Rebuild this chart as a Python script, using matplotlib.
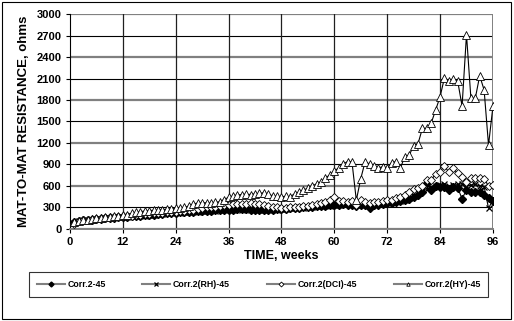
import matplotlib
matplotlib.use("Agg")
import matplotlib.pyplot as plt
from matplotlib.patches import Rectangle
import numpy as np

plt.rcParams['font.family'] = ['Liberation Sans', 'DejaVu Sans']

weeks = list(range(1, 97))

corr2 = [100,110,120,125,130,135,140,145,150,155,160,165,
         170,175,180,185,190,195,200,205,210,215,220,225,
         230,235,240,240,245,250,255,255,260,265,265,270,
         270,275,275,275,270,270,265,265,270,270,275,275,
         280,285,290,295,300,305,310,315,320,325,330,335,
         340,345,340,330,320,340,330,290,330,340,350,355,
         365,375,390,400,420,450,480,520,640,550,600,590,
         590,545,590,575,420,545,520,520,520,480,430,390]

corr2_rh = [80,105,115,125,130,140,140,150,150,160,160,170,
            165,180,175,190,185,200,195,210,205,220,215,230,
            225,240,235,245,240,255,250,260,255,270,265,275,
            265,280,270,280,265,275,260,270,265,275,270,280,
            275,290,285,300,295,310,305,320,315,330,325,340,
            335,350,345,360,330,350,340,320,345,350,360,365,
            370,385,395,410,430,460,500,540,560,580,600,610,
            620,600,610,620,630,600,610,620,600,590,290,400]

corr2_dci = [70,110,120,130,135,140,150,150,160,165,170,175,
             180,185,190,200,205,210,215,220,225,230,235,240,
             250,255,265,270,280,290,300,305,310,320,330,340,
             345,350,350,350,355,350,345,340,320,310,300,295,
             295,300,305,310,315,320,330,345,360,380,400,450,
             390,385,380,390,330,400,370,360,375,380,390,400,
             410,430,450,480,510,560,570,600,680,685,765,800,
             880,790,845,775,730,650,705,705,705,700,600,610]

corr2_hy = [90,110,120,130,140,150,155,160,170,175,180,190,
            200,215,230,240,250,255,260,265,270,275,280,285,
            290,300,320,350,360,365,365,360,370,380,410,440,
            460,475,480,485,480,490,495,505,490,460,455,450,
            455,450,490,510,540,570,600,630,660,710,755,810,
            850,905,940,940,400,700,940,905,885,850,870,850,
            925,940,850,1010,1030,1160,1190,1405,1405,1480,1660,1845,
            2110,2065,2095,2065,1715,2715,1825,1825,2140,1940,1170,1710]

labels = ['Corr.2-45', 'Corr.2(RH)-45', 'Corr.2(DCI)-45', 'Corr.2(HY)-45']
xticks = list(range(0, 97, 12))
yticks = list(range(0, 3001, 300))

fig = plt.figure(figsize=(5.14, 3.21), dpi=100)
ax = fig.add_axes([0.136, 0.287, 0.823, 0.669])

# gridlines
for y in yticks:
    if y % 600 == 0:
        ax.axhline(y, color='#808080', lw=1.6, zorder=0)
    else:
        ax.axhline(y, color='black', lw=0.8, zorder=0)
for x in xticks[1:-1]:
    ax.axvline(x, color='#202020', lw=0.9, zorder=0)
ax.axvline(96, color='#808080', lw=1.4, zorder=0)

lw = 0.8
ax.plot(weeks, corr2, color='black', lw=lw, marker='D', ms=3.8,
        mfc='black', mec='black', label=labels[0], zorder=3)
ax.plot(weeks, corr2_rh, color='black', lw=lw, marker='x', ms=4.2,
        mec='black', mew=0.9, label=labels[1], zorder=3)
ax.plot(weeks, corr2_dci, color='black', lw=lw, marker='D', ms=4.2,
        mfc='white', mec='black', mew=0.6, label=labels[2], zorder=4)
ax.plot(weeks, corr2_hy, color='black', lw=lw, marker='^', ms=5.8,
        mfc='white', mec='black', mew=0.6, label=labels[3], zorder=5)

ax.set_xlim(0, 96)
ax.set_ylim(0, 3000)
ax.set_xticks(xticks)
ax.set_yticks(yticks)
ax.tick_params(axis='both', direction='out', length=3, width=0.8,
               labelsize=8, pad=3)
for lab in ax.get_xticklabels() + ax.get_yticklabels():
    lab.set_fontweight('bold')
for s in ['top', 'right']:
    ax.spines[s].set_visible(False)
ax.spines['left'].set_color('black')
ax.spines['left'].set_linewidth(0.8)
ax.spines['bottom'].set_color('#808080')
ax.spines['bottom'].set_linewidth(1.4)

ax.set_xlabel('TIME, weeks', fontsize=9, fontweight='bold', labelpad=2)
ax.set_ylabel('MAT-TO-MAT RESISTANCE, ohms', fontsize=9.5, fontweight='bold', labelpad=5)

handles, labs = ax.get_legend_handles_labels()
leg = fig.legend(handles, labs, loc='center', ncol=4,
                 bbox_to_anchor=(0.503, 0.113), frameon=True, fancybox=False,
                 edgecolor='black', prop={'size': 6.3, 'weight': 'bold'},
                 handlelength=3.2, columnspacing=4.2, borderpad=0.9,
                 handletextpad=0.3, borderaxespad=0)
leg.get_frame().set_linewidth(0.8)
for h in leg.get_lines():
    h.set_color('#808080')
    h.set_linewidth(1.5)
    h.set_markersize(2.5)

fig.patches.append(Rectangle((0.003, 0.005), 0.992, 0.99, transform=fig.transFigure,
                             fill=False, edgecolor='black', lw=0.8))

fig.savefig('out.png', dpi=100)
